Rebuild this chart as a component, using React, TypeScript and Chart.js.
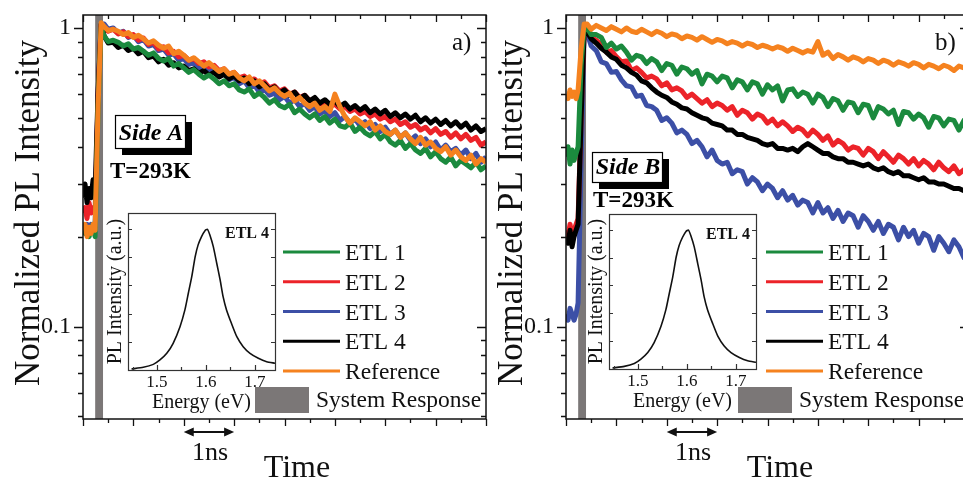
import { useEffect, useRef } from 'react';
import { Chart, registerables } from 'chart.js';
Chart.register(...registerables);

const FONT = '"Liberation Serif", "Times New Roman", Times, serif';

// ---------- data ----------
const TIME = [0, 0.04, 0.08, 0.12, 0.16, 0.2, 0.24, 0.3, 0.36, 0.42,
  0.5, 0.6, 0.7, 0.8, 0.9, 1, 1.1, 1.2, 1.3, 1.4, 1.5, 1.6, 1.7, 1.8, 1.9, 2, 2.1, 2.2, 2.3, 2.4, 2.5, 2.6, 2.7, 2.8, 2.9,
  3, 3.1, 3.2, 3.3, 3.4, 3.5, 3.6, 3.7, 3.8, 3.9, 4, 4.1, 4.2, 4.3, 4.4, 4.5, 4.6, 4.7, 4.8, 4.9,
  5, 5.1, 5.2, 5.3, 5.4, 5.5, 5.6, 5.7, 5.8, 5.9, 6, 6.1, 6.2, 6.3, 6.4, 6.5, 6.6, 6.7, 6.8, 6.9,
  7, 7.1, 7.2, 7.3, 7.4, 7.5, 7.6, 7.7, 7.8, 7.9, 8];

const SERIES_LABELS = ['ETL 1', 'ETL 2', 'ETL 3', 'ETL 4', 'Reference'];
const SERIES_COLORS = ['#1b8a3e', '#ec2329', '#3c4fa6', '#000000', '#f5821f'];
const SYSTEM_LABEL = 'System Response';
const SYSTEM_COLOR = '#7b7777';

// Side A
const A_ETL1 = [0.21, 0.205, 0.215, 0.2, 0.21, 0.22, 0.2, 0.55, 1.0,
  0.94, 0.9, 0.91, 0.895, 0.87, 0.885, 0.85, 0.86, 0.835, 0.81,
  0.825, 0.79, 0.775, 0.79, 0.745, 0.76, 0.735, 0.71, 0.725, 0.7,
  0.68, 0.695, 0.675, 0.65, 0.665, 0.64, 0.65, 0.62, 0.61, 0.625,
  0.59, 0.605, 0.585, 0.56, 0.575, 0.55, 0.54, 0.555, 0.52, 0.535,
  0.515, 0.5, 0.515, 0.49, 0.505, 0.48, 0.495, 0.47, 0.465, 0.48,
  0.45, 0.465, 0.445, 0.435, 0.45, 0.425, 0.44, 0.415, 0.405, 0.42,
  0.395, 0.41, 0.39, 0.38, 0.395, 0.37, 0.385, 0.365, 0.355, 0.37,
  0.345, 0.36, 0.35, 0.34, 0.355, 0.335, 0.345];
const A_ETL2 = [0.24, 0.25, 0.23, 0.26, 0.24, 0.25, 0.24, 0.6, 1.02,
  1.0, 0.975, 0.99, 0.955, 0.97, 0.935, 0.95, 0.91, 0.925, 0.88,
  0.895, 0.85, 0.865, 0.825, 0.835, 0.8, 0.81, 0.78, 0.79, 0.76,
  0.77, 0.74, 0.75, 0.72, 0.73, 0.7, 0.71, 0.68, 0.69, 0.665,
  0.675, 0.65, 0.66, 0.63, 0.64, 0.615, 0.625, 0.6, 0.61, 0.585,
  0.595, 0.57, 0.58, 0.555, 0.565, 0.545, 0.555, 0.535, 0.545, 0.525,
  0.535, 0.515, 0.525, 0.505, 0.515, 0.495, 0.505, 0.485, 0.495, 0.475,
  0.485, 0.465, 0.475, 0.455, 0.465, 0.445, 0.46, 0.44, 0.45, 0.43,
  0.445, 0.425, 0.44, 0.42, 0.43, 0.405, 0.415];
const A_ETL3 = [0.22, 0.21, 0.22, 0.21, 0.22, 0.21, 0.215, 0.6, 1.03,
  1.03, 0.99, 1.0, 0.96, 0.975, 0.93, 0.945, 0.9, 0.915, 0.87,
  0.88, 0.84, 0.85, 0.81, 0.82, 0.78, 0.79, 0.755, 0.765, 0.73,
  0.745, 0.71, 0.725, 0.69, 0.705, 0.67, 0.685, 0.65, 0.665, 0.63,
  0.645, 0.61, 0.625, 0.595, 0.605, 0.575, 0.59, 0.56, 0.575, 0.545,
  0.56, 0.53, 0.545, 0.515, 0.53, 0.505, 0.52, 0.49, 0.505, 0.48,
  0.495, 0.47, 0.485, 0.46, 0.475, 0.45, 0.465, 0.44, 0.455, 0.43,
  0.445, 0.42, 0.435, 0.41, 0.425, 0.4, 0.415, 0.39, 0.405, 0.385,
  0.395, 0.375, 0.39, 0.365, 0.38, 0.355, 0.37];
const A_ETL4 = [0.27, 0.3, 0.26, 0.29, 0.27, 0.31, 0.28, 0.62, 1.03,
  0.94, 0.89, 0.895, 0.86, 0.875, 0.84, 0.855, 0.82, 0.835, 0.795,
  0.805, 0.77, 0.785, 0.75, 0.765, 0.735, 0.745, 0.72, 0.73, 0.705,
  0.72, 0.695, 0.71, 0.685, 0.7, 0.675, 0.69, 0.665, 0.68, 0.65,
  0.665, 0.635, 0.65, 0.62, 0.635, 0.605, 0.62, 0.595, 0.61, 0.58,
  0.595, 0.57, 0.585, 0.56, 0.575, 0.555, 0.57, 0.545, 0.56, 0.535,
  0.55, 0.53, 0.545, 0.52, 0.535, 0.515, 0.53, 0.505, 0.52, 0.5,
  0.515, 0.495, 0.51, 0.485, 0.5, 0.48, 0.495, 0.475, 0.49, 0.47,
  0.485, 0.465, 0.48, 0.455, 0.47, 0.45, 0.46];
const A_REF = [0.21, 0.22, 0.2, 0.215, 0.205, 0.22, 0.21, 0.55, 1.04,
  1.01, 0.98, 0.99, 0.975, 0.95, 0.965, 0.93, 0.945, 0.92, 0.89,
  0.905, 0.875, 0.855, 0.87, 0.82, 0.835, 0.81, 0.78, 0.795, 0.77,
  0.745, 0.765, 0.74, 0.715, 0.73, 0.7, 0.71, 0.68, 0.665, 0.685,
  0.65, 0.665, 0.64, 0.615, 0.63, 0.605, 0.59, 0.605, 0.57, 0.585,
  0.56, 0.545, 0.56, 0.53, 0.545, 0.525, 0.6, 0.545, 0.505, 0.48,
  0.5, 0.485, 0.47, 0.485, 0.455, 0.47, 0.45, 0.44, 0.455, 0.43,
  0.445, 0.425, 0.41, 0.43, 0.405, 0.415, 0.395, 0.385, 0.4, 0.375,
  0.39, 0.37, 0.36, 0.375, 0.35, 0.365, 0.355];

// Side B
const B_ETL1 = [0.37, 0.4, 0.35, 0.39, 0.36, 0.38, 0.4, 0.75, 1.0,
  1.0, 0.95, 0.95, 0.93, 0.86, 0.89, 0.85, 0.87, 0.83, 0.78,
  0.81, 0.8, 0.76, 0.79, 0.77, 0.72, 0.76, 0.75, 0.7, 0.74,
  0.73, 0.7, 0.72, 0.65, 0.7, 0.69, 0.66, 0.69, 0.68, 0.63,
  0.67, 0.66, 0.62, 0.66, 0.65, 0.6, 0.645, 0.62, 0.64, 0.57,
  0.62, 0.625, 0.59, 0.61, 0.6, 0.56, 0.6, 0.585, 0.545, 0.58,
  0.57, 0.53, 0.565, 0.56, 0.52, 0.555, 0.55, 0.5, 0.545, 0.535,
  0.515, 0.53, 0.475, 0.525, 0.52, 0.495, 0.515, 0.5, 0.465, 0.505,
  0.5, 0.47, 0.495, 0.49, 0.455, 0.49, 0.48];
const B_ETL2 = [0.21, 0.2, 0.22, 0.2, 0.21, 0.22, 0.23, 0.5, 0.98,
  0.98, 0.93, 0.91, 0.88, 0.83, 0.84, 0.8, 0.77, 0.775, 0.72,
  0.735, 0.71, 0.68, 0.69, 0.675, 0.64, 0.655, 0.62, 0.63, 0.615,
  0.585, 0.6, 0.58, 0.56, 0.575, 0.545, 0.56, 0.55, 0.53, 0.545,
  0.51, 0.53, 0.52, 0.495, 0.515, 0.505, 0.48, 0.495, 0.47, 0.485,
  0.47, 0.45, 0.465, 0.455, 0.435, 0.455, 0.44, 0.42, 0.435, 0.405,
  0.42, 0.41, 0.39, 0.4, 0.395, 0.375, 0.395, 0.385, 0.365, 0.385,
  0.37, 0.355, 0.375, 0.365, 0.35, 0.365, 0.345, 0.36, 0.35, 0.335,
  0.355, 0.34, 0.33, 0.345, 0.325, 0.335, 0.32];
const B_ETL3 = [0.11, 0.105, 0.115, 0.11, 0.105, 0.11, 0.12, 0.35, 0.97,
  0.96, 0.87, 0.84, 0.77, 0.76, 0.71, 0.715, 0.67, 0.64, 0.635,
  0.59, 0.595, 0.55, 0.545, 0.53, 0.49, 0.5, 0.48, 0.445, 0.455,
  0.44, 0.41, 0.42, 0.4, 0.37, 0.39, 0.36, 0.35, 0.355, 0.325,
  0.335, 0.33, 0.3, 0.315, 0.305, 0.285, 0.3, 0.29, 0.27, 0.285,
  0.265, 0.275, 0.255, 0.265, 0.26, 0.24, 0.26, 0.24, 0.25, 0.23,
  0.245, 0.225, 0.24, 0.235, 0.215, 0.235, 0.225, 0.21, 0.225, 0.205,
  0.22, 0.215, 0.195, 0.215, 0.2, 0.21, 0.19, 0.205, 0.2, 0.18,
  0.2, 0.19, 0.178, 0.195, 0.185, 0.17, 0.185];
const B_ETL4 = [0.2, 0.19, 0.21, 0.185, 0.2, 0.21, 0.22, 0.5, 0.98,
  0.97, 0.92, 0.89, 0.855, 0.83, 0.8, 0.785, 0.75, 0.735, 0.71,
  0.695, 0.665, 0.655, 0.63, 0.61, 0.595, 0.585, 0.565, 0.555, 0.54,
  0.535, 0.52, 0.51, 0.5, 0.495, 0.48, 0.475, 0.47, 0.455, 0.455,
  0.44, 0.44, 0.43, 0.425, 0.42, 0.41, 0.405, 0.41, 0.395, 0.395,
  0.39, 0.395, 0.385, 0.4, 0.41, 0.4, 0.39, 0.38, 0.38, 0.37,
  0.365, 0.365, 0.355, 0.355, 0.35, 0.345, 0.35, 0.34, 0.335, 0.34,
  0.33, 0.325, 0.33, 0.32, 0.32, 0.315, 0.31, 0.315, 0.305, 0.305,
  0.3, 0.3, 0.295, 0.29, 0.29, 0.285, 0.285];
const B_REF = [0.6, 0.58, 0.62, 0.59, 0.61, 0.58, 0.62, 0.85, 1.03,
  1.03, 0.99, 1.02, 1.0, 0.98, 1.01, 0.99, 0.97, 1.0, 0.975,
  0.965, 0.99, 0.97, 0.95, 0.975, 0.96, 0.935, 0.955, 0.945, 0.92,
  0.94, 0.93, 0.91, 0.935, 0.915, 0.895, 0.915, 0.905, 0.885, 0.9,
  0.89, 0.87, 0.89, 0.88, 0.86, 0.875, 0.865, 0.85, 0.865, 0.855,
  0.835, 0.855, 0.84, 0.825, 0.84, 0.83, 0.9, 0.81, 0.83, 0.79,
  0.815, 0.8, 0.78, 0.8, 0.79, 0.77, 0.79, 0.78, 0.76, 0.78,
  0.77, 0.75, 0.77, 0.76, 0.745, 0.765, 0.755, 0.735, 0.755, 0.745,
  0.73, 0.75, 0.74, 0.72, 0.745, 0.735, 0.725];

// instrument response (ns window, normalized height)
const SYS_TIME = [0.24, 0.4];
const SYS_VALUE = [1.2, 1.2];

// axes
const X_MIN = 0, X_MAX = 8;
const Y_MIN = 0.049, Y_MAX = 1.105;
const X_TICKS = [0, 0.5, 1, 1.5, 2, 2.5, 3, 3.5, 4, 4.5, 5, 5.5, 6, 6.5, 7, 7.5, 8];
const Y_TICKS = [0.05, 0.06, 0.07, 0.08, 0.09, 0.1, 0.2, 0.3, 0.4, 0.5, 0.6, 0.7, 0.8, 0.9, 1];
const Y_LABEL_VALUES = [0.1, 1];
const Y_LABEL_TEXT = ['0.1', '1'];
const SCALE_BAR = [2, 3];

// inset: PL spectrum ETL 4
const ENERGY = [1.448, 1.472, 1.4925, 1.506, 1.52, 1.533, 1.547, 1.557, 1.564, 1.571, 1.578, 1.584, 1.591, 1.598, 1.603, 1.608, 1.615, 1.622, 1.629, 1.635, 1.642, 1.652, 1.663, 1.676, 1.69, 1.707, 1.724, 1.741];
const PL_ETL4 = [0.007, 0.019, 0.04, 0.071, 0.118, 0.189, 0.307, 0.426, 0.544, 0.662, 0.804, 0.887, 0.946, 0.988, 0.998, 0.957, 0.875, 0.757, 0.638, 0.52, 0.426, 0.331, 0.236, 0.165, 0.118, 0.083, 0.059, 0.048];
const INSET_X_TICKS = [1.45, 1.5, 1.55, 1.6, 1.65, 1.7];
const INSET_X_LABEL_VALUES = [1.5, 1.6, 1.7];
const INSET_X_LABEL_TEXT = ['1.5', '1.6', '1.7'];
const INSET_Y_TICKS = [0.2, 0.4, 0.6, 0.8, 1.0];

// ---------- decoration plugins ----------
type Deco = { tag: string; side: string; boxDX: number; boxY: number; boxH: number; tDX: number; tY: number };

function mainDeco(d: Deco) {
  return {
    id: 'mainDeco',
    afterDraw(chart: any) {
      const { ctx, chartArea: a } = chart;
      const xs = chart.scales.x, ys = chart.scales.y;
      ctx.save();
      ctx.strokeStyle = '#111';
      ctx.fillStyle = '#111';
      ctx.lineWidth = 1.5;
      ctx.strokeRect(a.left, a.top, a.right - a.left, a.bottom - a.top);
      ctx.lineWidth = 1.3;
      ctx.beginPath();
      X_TICKS.forEach((t, i) => {
        const px = Math.round(xs.getPixelForValue(t)) + 0.5;
        const len = i % 2 === 0 ? 7 : 4;
        ctx.moveTo(px, a.bottom); ctx.lineTo(px, a.bottom + len);
        ctx.moveTo(px, a.top); ctx.lineTo(px, a.top + len);
      });
      Y_TICKS.forEach((v) => {
        const py = Math.round(ys.getPixelForValue(v)) + 0.5;
        const len = Y_LABEL_VALUES.includes(v) ? 9 : 5;
        ctx.moveTo(a.left - len, py); ctx.lineTo(a.left, py);
        ctx.moveTo(a.right - len, py); ctx.lineTo(a.right, py);
      });
      ctx.stroke();

      // tick labels
      ctx.font = `24px ${FONT}`;
      ctx.textAlign = 'right';
      ctx.textBaseline = 'middle';
      Y_LABEL_VALUES.forEach((v, i) => ctx.fillText(Y_LABEL_TEXT[i], a.left - 12, ys.getPixelForValue(v)));

      // axis titles
      ctx.save();
      ctx.translate(a.left - 44, 213);
      ctx.rotate(-Math.PI / 2);
      ctx.textAlign = 'center';
      ctx.textBaseline = 'alphabetic';
      ctx.font = `35px ${FONT}`;
      ctx.fillText('Normalized PL Intensity', 0, 0);
      ctx.restore();

      ctx.textBaseline = 'alphabetic';
      ctx.textAlign = 'center';
      ctx.font = `32px ${FONT}`;
      ctx.fillText('Time', a.left + 214, 477);

      // 1 ns scale bar
      const x1 = xs.getPixelForValue(SCALE_BAR[0]);
      const x2 = xs.getPixelForValue(SCALE_BAR[1]);
      const ay = a.bottom + 13;
      ctx.lineWidth = 2;
      ctx.beginPath();
      ctx.moveTo(x1 + 6, ay); ctx.lineTo(x2 - 6, ay);
      ctx.stroke();
      ctx.beginPath();
      ctx.moveTo(x1, ay); ctx.lineTo(x1 + 10, ay - 4.5); ctx.lineTo(x1 + 10, ay + 4.5); ctx.closePath();
      ctx.moveTo(x2, ay); ctx.lineTo(x2 - 10, ay - 4.5); ctx.lineTo(x2 - 10, ay + 4.5); ctx.closePath();
      ctx.fill();
      ctx.font = `26px ${FONT}`;
      ctx.fillText('1ns', (x1 + x2) / 2 + 1, 460);

      // panel tag
      ctx.textAlign = 'left';
      ctx.font = `25px ${FONT}`;
      ctx.fillText(d.tag, a.left + 369, 50);

      // Side box
      const bx = a.left + d.boxDX, by = d.boxY, bw = 70, bh = d.boxH;
      ctx.fillStyle = '#000';
      ctx.fillRect(bx + 7, by + 7, bw, bh);
      ctx.fillStyle = '#fff';
      ctx.fillRect(bx, by, bw, bh);
      ctx.strokeStyle = '#000';
      ctx.lineWidth = 1.2;
      ctx.strokeRect(bx + 0.5, by + 0.5, bw, bh);
      ctx.fillStyle = '#000';
      ctx.textAlign = 'center';
      ctx.font = `italic bold 24px ${FONT}`;
      ctx.fillText(d.side, bx + bw / 2 + 1, by + bh - 8);

      ctx.textAlign = 'left';
      ctx.font = `bold 23px ${FONT}`;
      ctx.fillText('T=293K', a.left + d.tDX, d.tY);

      // legend
      const ds = chart.data.datasets;
      ctx.font = `23.5px ${FONT}`;
      for (let i = 0; i < 5; i++) {
        const y = 252 + i * 29.75;
        ctx.strokeStyle = ds[i].borderColor;
        ctx.lineWidth = 3;
        ctx.beginPath();
        ctx.moveTo(a.left + 200, y); ctx.lineTo(a.left + 257, y);
        ctx.stroke();
        ctx.fillStyle = '#111';
        ctx.fillText(ds[i].label, a.left + 262, y + 8);
      }
      ctx.fillStyle = ds[5].backgroundColor;
      ctx.fillRect(a.left + 172, 387, 54, 26);
      ctx.fillStyle = '#111';
      ctx.fillText(ds[5].label, a.left + 233, 407);
      ctx.restore();
    },
  };
}

function insetDeco() {
  return {
    id: 'insetDeco',
    afterDraw(chart: any) {
      const { ctx, chartArea: a } = chart;
      const xs = chart.scales.x, ys = chart.scales.y;
      ctx.save();
      ctx.strokeStyle = '#333';
      ctx.lineWidth = 1.2;
      ctx.strokeRect(a.left + 0.5, a.top + 0.5, a.right - a.left, a.bottom - a.top);
      ctx.beginPath();
      INSET_X_TICKS.forEach((e) => {
        const px = Math.round(xs.getPixelForValue(e)) + 0.5;
        const len = INSET_X_LABEL_VALUES.includes(e) ? 5 : 3;
        ctx.moveTo(px, a.bottom); ctx.lineTo(px, a.bottom - len);
      });
      INSET_Y_TICKS.forEach((v) => {
        const py = Math.round(ys.getPixelForValue(v)) + 0.5;
        ctx.moveTo(a.left, py); ctx.lineTo(a.left + 4, py);
        ctx.moveTo(a.right, py); ctx.lineTo(a.right - 4, py);
      });
      ctx.stroke();
      ctx.fillStyle = '#111';
      ctx.textAlign = 'center';
      ctx.textBaseline = 'alphabetic';
      ctx.font = `17px ${FONT}`;
      INSET_X_LABEL_VALUES.forEach((e, i) => ctx.fillText(INSET_X_LABEL_TEXT[i], xs.getPixelForValue(e), a.bottom + 17));
      ctx.font = `20px ${FONT}`;
      ctx.fillText('Energy (eV)', (a.left + a.right) / 2, a.bottom + 38);
      ctx.save();
      ctx.translate(a.left - 7, (a.top + a.bottom) / 2);
      ctx.rotate(-Math.PI / 2);
      ctx.fillText('PL Intensity (a.u.)', 0, 0);
      ctx.restore();
      ctx.textAlign = 'right';
      ctx.font = `bold 16px ${FONT}`;
      ctx.fillText('ETL 4', a.right - 6, a.top + 25);
      ctx.restore();
    },
  };
}

// ---------- components ----------
function MainPanel({ left, series, deco }: { left: number; series: number[][]; deco: Deco }) {
  const ref = useRef<HTMLCanvasElement>(null);
  useEffect(() => {
    const drawOrder = [1, 3, 4, 2, 0];
    const datasets: any[] = series.map((vals, i) => ({
      label: SERIES_LABELS[i],
      data: TIME.map((t, k) => ({ x: t, y: vals[k] })),
      borderColor: SERIES_COLORS[i],
      backgroundColor: SERIES_COLORS[i],
      borderWidth: 5,
      borderJoinStyle: 'round',
      pointRadius: 0,
      tension: 0,
      fill: false,
      order: drawOrder[i],
    }));
    datasets.push({
      label: SYSTEM_LABEL,
      data: SYS_TIME.map((t, k) => ({ x: t, y: SYS_VALUE[k] })),
      borderColor: SYSTEM_COLOR,
      backgroundColor: SYSTEM_COLOR,
      borderWidth: 0,
      pointRadius: 0,
      fill: 'start',
      order: 10,
    });
    const chart = new Chart(ref.current!, {
      type: 'line',
      data: { datasets },
      options: {
        responsive: false,
        animation: false,
        events: [],
        layout: { padding: { left: 83, top: 15, right: 4, bottom: 61 } },
        scales: {
          x: { type: 'linear', min: X_MIN, max: X_MAX, display: false, bounds: 'data' },
          y: { type: 'logarithmic', min: Y_MIN, max: Y_MAX, display: false, bounds: 'data' },
        },
        plugins: { legend: { display: false }, tooltip: { enabled: false } },
      },
      plugins: [mainDeco(deco)],
    } as any);
    return () => chart.destroy();
  }, []);
  return (
    <canvas
      ref={ref}
      width={490}
      height={480}
      style={{ position: 'absolute', left, top: 0, width: 490, height: 480 }}
    />
  );
}

function Inset({ left, top, pad }: { left: number; top: number; pad: { left: number; top: number; right: number; bottom: number } }) {
  const ref = useRef<HTMLCanvasElement>(null);
  useEffect(() => {
    const chart = new Chart(ref.current!, {
      type: 'line',
      data: {
        datasets: [
          {
            label: 'ETL 4',
            data: ENERGY.map((e, k) => ({ x: e, y: PL_ETL4[k] })),
            borderColor: '#111',
            borderWidth: 1.6,
            pointRadius: 0,
            tension: 0.2,
            fill: false,
          },
        ],
      },
      options: {
        responsive: false,
        animation: false,
        events: [],
        layout: { padding: pad },
        scales: {
          x: { type: 'linear', min: 1.4408, max: 1.741, display: false, bounds: 'data' },
          y: { type: 'linear', min: 0, max: 1.113, display: false, bounds: 'data' },
        },
        plugins: { legend: { display: false }, tooltip: { enabled: false } },
      },
      plugins: [insetDeco()],
    } as any);
    return () => chart.destroy();
  }, []);
  return (
    <canvas
      ref={ref}
      width={200}
      height={225}
      style={{ position: 'absolute', left, top, width: 200, height: 225 }}
    />
  );
}

export default function App() {
  return (
    <div
      style={{
        position: 'absolute',
        left: 0,
        top: 0,
        width: 963,
        height: 480,
        overflow: 'hidden',
        background: '#fff',
      }}
    >
      <MainPanel
        left={0}
        series={[A_ETL1, A_ETL2, A_ETL3, A_ETL4, A_REF]}
        deco={{ tag: 'a)', side: 'Side A', boxDX: 32, boxY: 115, boxH: 33, tDX: 27, tY: 178 }}
      />
      <MainPanel
        left={483}
        series={[B_ETL1, B_ETL2, B_ETL3, B_ETL4, B_REF]}
        deco={{ tag: 'b)', side: 'Side B', boxDX: 26, boxY: 152, boxH: 30, tDX: 27, tY: 207 }}
      />
      <Inset left={88} top={195} pad={{ left: 40, top: 18, right: 13, bottom: 50 }} />
      <Inset left={569} top={196} pad={{ left: 40, top: 18, right: 13, bottom: 52 }} />
    </div>
  );
}
